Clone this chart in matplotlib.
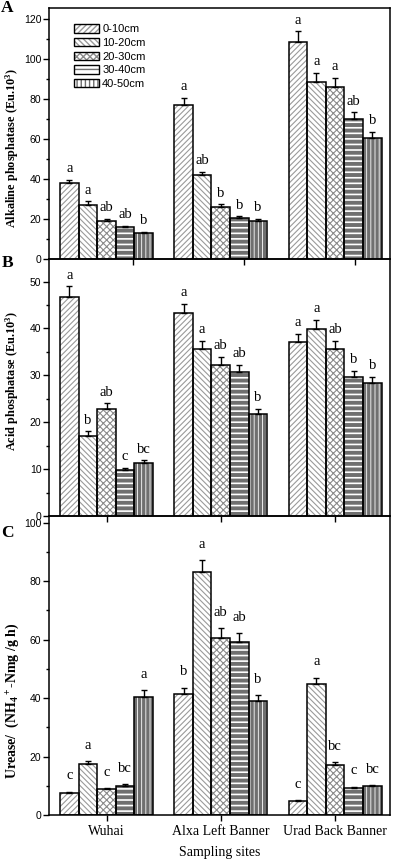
import matplotlib
matplotlib.use("Agg")
import matplotlib.pyplot as plt
from matplotlib.patches import Patch
from matplotlib.ticker import MultipleLocator
import numpy as np

sites = ["Wuhai", "Alxa Left Banner", "Urad Back Banner"]
depths = ["0-10cm", "10-20cm", "20-30cm", "30-40cm", "40-50cm"]

# rows = depth, cols = site
alk = [[37.8, 76.8, 108.5],
       [26.9, 41.9, 88.3],
       [18.9, 26.1, 86.0],
       [15.8, 20.3, 70.0],
       [13.0, 19.2, 60.3]]
alk_err = [[1.9, 3.7, 5.3],
           [1.9, 1.7, 4.7],
           [1.2, 1.3, 4.5],
           [0.8, 1.0, 3.3],
           [0.5, 0.8, 3.2]]
alk_let = [["a", "a", "a"], ["a", "ab", "a"], ["ab", "b", "a"],
           ["ab", "b", "ab"], ["b", "b", "b"]]

acid = [[46.7, 43.2, 37.0],
        [17.1, 35.6, 39.9],
        [22.8, 32.3, 35.6],
        [9.8, 30.7, 29.6],
        [11.4, 21.8, 28.3]]
acid_err = [[2.3, 2.1, 1.8],
            [1.0, 1.8, 1.9],
            [1.2, 1.6, 1.8],
            [0.5, 1.5, 1.4],
            [0.5, 1.0, 1.4]]
acid_let = [["a", "a", "a"], ["b", "a", "a"], ["ab", "ab", "ab"],
            ["c", "ab", "b"], ["bc", "b", "b"]]

urease = [[7.6, 41.5, 4.8],
          [17.5, 83.1, 44.9],
          [8.9, 60.7, 17.2],
          [10.0, 59.1, 9.3],
          [40.4, 39.1, 9.9]]
urease_err = [[0.4, 2.0, 0.2],
              [0.9, 4.1, 2.1],
              [0.3, 3.2, 0.8],
              [0.5, 3.0, 0.4],
              [2.3, 1.9, 0.3]]
urease_let = [["c", "b", "c"], ["a", "a", "a"], ["c", "ab", "bc"],
              ["bc", "ab", "c"], ["a", "b", "bc"]]

# hatch pattern, hatch colour, hatch linewidth per depth
styles = [("//////", "#9a9a9a", 0.8),
          ("\\\\\\\\\\\\", "#9a9a9a", 0.8),
          ("xxxxx", "#8a8a8a", 0.8),
          ("---", "#6f6f6f", 2.8),
          ("||||", "#6f6f6f", 2.4)]

serif = "Liberation Serif"
sans = "Liberation Sans"
plt.rcParams["font.family"] = [sans, "DejaVu Sans"]
plt.rcParams["mathtext.fontset"] = "custom"
plt.rcParams["mathtext.rm"] = serif + ":bold"
plt.rcParams["mathtext.it"] = serif + ":bold"
plt.rcParams["mathtext.bf"] = serif + ":bold"

W, H = 394, 860
fig = plt.figure(figsize=(W / 100, H / 100), dpi=100)


def make_ax(top, bottom):
    return fig.add_axes([49 / W, 1 - bottom / H, 341 / W, (bottom - top) / H])


axC = make_ax(516, 815)
axB = make_ax(259, 516)
axA = make_ax(8, 259)

xpos = np.arange(1, len(sites) + 1)
bw = 0.163


def hatched(ax, x, h, hatch, col, lw):
    bars = ax.bar(x, h, bw, color="white", edgecolor=col, linewidth=0,
                  hatch=hatch, zorder=2)
    for b in bars:
        if hasattr(b, "set_hatch_linewidth"):
            b.set_hatch_linewidth(lw)
    return bars


def panel(ax, vals, errs, lets, ylim, major, minor, label, label_y, off,
          label_size=8.8):
    for i in range(len(depths)):
        x = xpos + (i - 2) * bw
        hatch, col, lw = styles[i]
        with plt.rc_context({"hatch.linewidth": lw}):
            hatched(ax, x, vals[i], hatch, col, lw)
        ax.bar(x, vals[i], bw, fill=False, edgecolor="black", linewidth=1.1,
               zorder=3)
        ax.errorbar(x, vals[i], yerr=[np.zeros(len(sites)), errs[i]],
                    fmt="none", ecolor="black", elinewidth=1.0, capsize=2.5,
                    capthick=1.0, zorder=4)
        for j in range(len(sites)):
            ax.annotate(lets[i][j], (x[j], vals[i][j] + errs[i][j]),
                        xytext=(0, off), textcoords="offset points",
                        ha="center", va="center", fontsize=10.5,
                        family=serif)
    ax.set_xlim(0.497, 3.48)
    ax.set_ylim(*ylim)
    ax.yaxis.set_major_locator(MultipleLocator(major))
    ax.yaxis.set_minor_locator(MultipleLocator(minor))
    ax.tick_params(axis="y", which="major", direction="out", length=4,
                   width=1, labelsize=7.5, pad=1.5)
    ax.tick_params(axis="y", which="minor", direction="out", length=2.2,
                   width=1)
    ax.tick_params(axis="x", direction="out", length=4, width=1)
    ax.set_ylabel(label, family=serif, fontweight="bold",
                  fontsize=label_size, va="center")
    ax.yaxis.set_label_coords(-0.107, label_y)
    for s in ax.spines.values():
        s.set_linewidth(1.1)
    ax.patch.set_alpha(0)


panel(axA, alk, alk_err, alk_let, (0, 125.5), 20, 10,
      r"Alkaline phosphatase (Eu.10$^3$)", 0.44, 8)
panel(axB, acid, acid_err, acid_let, (0, 54.8), 10, 5,
      r"Acid phosphatase (Eu.10$^3$)", 0.525, 8)
panel(axC, urease, urease_err, urease_let, (0, 102.3), 20, 10,
      r"Urease/  (NH$_4$$^+$-Nmg /g h)", 0.38, 11.5, label_size=10)

axA.set_xticks([1.23, 2.2, 3.17])
axA.set_xticklabels([])
axB.set_xticks(xpos)
axB.set_xticklabels([])
axC.set_xticks(xpos)
axC.set_xticklabels(sites, family=serif, fontsize=10)
axC.tick_params(axis="x", pad=3)
axC.set_xlabel("Sampling sites", family=serif, fontsize=10, labelpad=6)

handles = []
for i in range(len(depths)):
    hatch, col, lw = styles[i]
    hp = Patch(facecolor="white", edgecolor=col, linewidth=0, hatch=hatch)
    if hasattr(hp, "set_hatch_linewidth"):
        hp.set_hatch_linewidth(lw)
    ep = Patch(fill=False, edgecolor="black", linewidth=1.0)
    handles.append((hp, ep))
axA.legend(handles, depths, loc="upper left", bbox_to_anchor=(0.073, 0.935),
           frameon=False, fontsize=8, handlelength=2.25, handleheight=0.8,
           handletextpad=0.3, labelspacing=0.32, borderpad=0,
           borderaxespad=0)

for letter, y in [("A", 7.5), ("B", 263), ("C", 533)]:
    fig.text(7.5 / W, 1 - y / H, letter, family=serif, fontweight="bold",
             fontsize=12.5, ha="center", va="center")

fig.savefig("out.png", dpi=100)
